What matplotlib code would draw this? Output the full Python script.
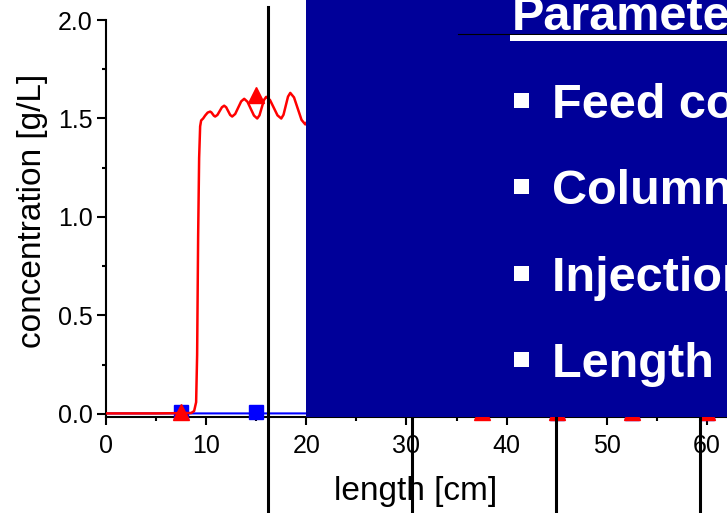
import matplotlib
matplotlib.use("Agg")
import matplotlib.pyplot as plt
from matplotlib.patches import Rectangle
from matplotlib.lines import Line2D
from matplotlib.ticker import MultipleLocator, FormatStrFormatter

plt.rcParams['font.family'] = ['Liberation Sans', 'DejaVu Sans']

# simulated profiles along the column
red_x = [0, 5, 8.5, 8.8, 9.0, 9.1, 9.2, 9.3, 9.4, 9.5, 9.7, 9.9, 10.15, 10.4,
         10.525, 10.65, 10.775, 10.9, 11.125, 11.35, 11.575, 11.8, 12.0, 12.2,
         12.4, 12.6, 12.9, 13.2, 13.5, 13.8, 14.125, 14.45, 14.775, 15.1, 15.325,
         15.55, 15.775, 16.0, 16.375, 16.75, 17.125, 17.5, 17.725, 17.95, 18.175,
         18.4, 18.775, 19.15, 19.525, 19.9, 20.225, 20.55, 20.875, 21.2, 22.0,
         22.8, 23.6, 24.4, 25.2, 26.0, 26.6, 27.2, 27.8, 28.5, 70]
red_y = [0.003, 0.003, 0.005, 0.015, 0.06, 0.3, 0.9, 1.3, 1.46, 1.49, 1.50, 1.515,
         1.53, 1.535, 1.531, 1.5225, 1.514, 1.51, 1.518, 1.5375, 1.557, 1.565,
         1.557, 1.5375, 1.518, 1.51, 1.523, 1.555, 1.587, 1.60, 1.585, 1.55, 1.515,
         1.50, 1.516, 1.555, 1.594, 1.61, 1.594, 1.555, 1.516, 1.50, 1.519, 1.565,
         1.611, 1.63, 1.607, 1.55, 1.493, 1.47, 1.495, 1.555, 1.615, 1.64, 1.55,
         1.46, 1.58, 1.65, 1.50, 1.2, 0.6, 0.15, 0.02, 0.005, 0.005]
blue_x = [0, 24, 27, 30, 33, 36, 39, 42, 70]
blue_y = [0.003, 0.003, 0.05, 0.35, 0.6, 0.5, 0.2, 0.01, 0.003]

# measured points
pts_x = [7.5, 15, 22.5, 30, 37.5, 45, 52.5, 60]
pts_red = [0.01, 1.62, 1.58, 0.9, 0.01, 0.01, 0.01, 0.01]
pts_blue = [0.01, 0.01, 0.05, 0.3, 0.45, 0.005, 0.005, 0.005]

# port positions
ports = [16.17, 30.55, 44.92, 59.3]

title = "Parameters"
bullets = ["Feed concentration", "Column length", "Injection volume", "Length of zones"]

fig = plt.figure(figsize=(7.27, 5.13), dpi=100)
ax = fig.add_axes([106 / 727, 96.5 / 513, 701 / 727, 396.5 / 513])

ax.plot(blue_x, blue_y, color='#0000FF', lw=1.5, zorder=2)
ax.plot(pts_x, pts_blue, 's', color='#0000FF', ms=10, clip_on=False, zorder=3)
ax.plot(red_x, red_y, color='#FF0000', lw=1.8, zorder=4)
ax.plot(pts_x, pts_red, '^', color='#FF0000', ms=11, clip_on=False, zorder=5)

for p in ports:
    ax.axvline(p, ymin=-0.25, ymax=(416.5 - 7) / 396.5, color='black', lw=2.2,
               clip_on=False, zorder=6)

ax.set_xlim(0, 70)
ax.set_ylim(-0.0127, 2.0)
ax.xaxis.set_major_locator(MultipleLocator(10))
ax.xaxis.set_minor_locator(MultipleLocator(5))
ax.yaxis.set_major_locator(MultipleLocator(0.5))
ax.yaxis.set_minor_locator(MultipleLocator(0.25))
ax.yaxis.set_major_formatter(FormatStrFormatter('%.1f'))

for s in ['top', 'right']:
    ax.spines[s].set_visible(False)
for s in ['left', 'bottom']:
    ax.spines[s].set_linewidth(1.5)

ax.tick_params(axis='both', which='major', width=1.5, labelsize=18, direction='out')
ax.tick_params(axis='x', which='major', length=5.5, pad=7)
ax.tick_params(axis='y', which='major', length=6.5, pad=3)
ax.tick_params(axis='both', which='minor', width=1.5, length=3)

ax.set_xlabel("length [cm]", fontsize=24)
ax.set_ylabel("concentration [g/L]", fontsize=24)
ax.xaxis.set_label_coords((416 - 106) / 701, (416.5 - 476) / 396.5)
ax.yaxis.set_label_coords((48 - 106) / 701, (416.5 - 211) / 396.5)

# slide panel over the right part of the plot
fig.add_artist(Rectangle((306 / 727, 96.5 / 513), 1, 1, transform=fig.transFigure,
                         facecolor='#000099', edgecolor='none', zorder=10))
fig.add_artist(Line2D([458 / 727, 1], [1 - 34 / 513] * 2, transform=fig.transFigure,
                      color='black', lw=0.8, zorder=11))
fig.add_artist(Rectangle((510 / 727, 1 - 41 / 513), 1, 6 / 513, transform=fig.transFigure,
                         facecolor='white', edgecolor='none', zorder=11))

fig.text(512 / 727, 1 - 30 / 513, title, color='white', fontsize=35, fontweight='bold',
         ha='left', va='baseline', zorder=12)

for i, b in enumerate(bullets):
    base = 118 + 86.3 * i
    fig.text(552 / 727, 1 - base / 513, b, color='white', fontsize=35,
             fontweight='bold', ha='left', va='baseline', zorder=12)
    fig.add_artist(Rectangle((514 / 727, 1 - (base - 10) / 513), 15 / 727, 15 / 513,
                             transform=fig.transFigure, facecolor='white',
                             edgecolor='none', zorder=12))

fig.savefig("out.png", dpi=100)
